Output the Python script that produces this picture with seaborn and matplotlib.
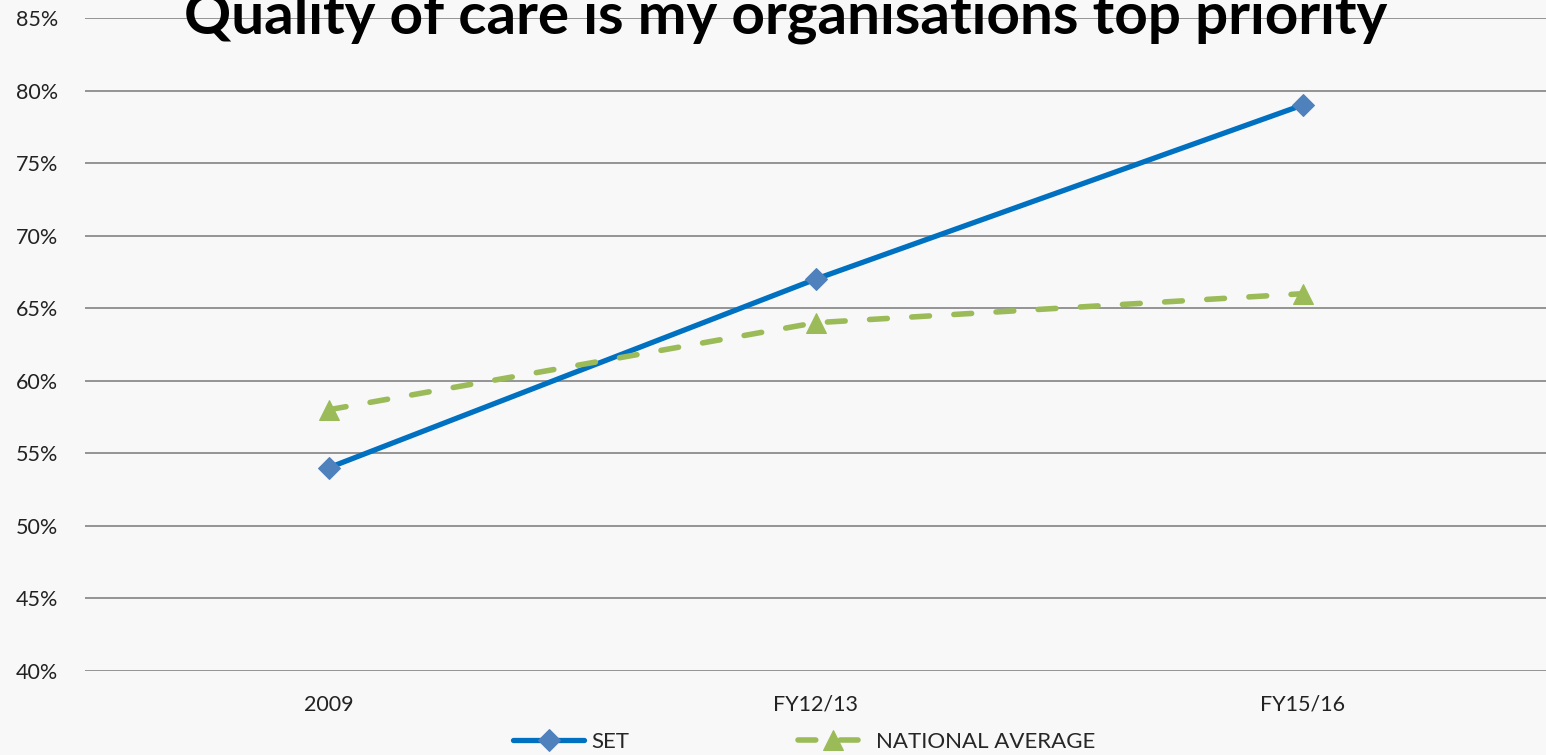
import matplotlib
matplotlib.use("Agg")
import matplotlib.pyplot as plt
import seaborn as sns
import pandas as pd
from matplotlib.ticker import FuncFormatter

years = ["2009", "FY12/13", "FY15/16"]
set_values = [54, 67, 79]
national_values = [58, 64, 66]
y_ticks = [40, 45, 50, 55, 60, 65, 70, 75, 80, 85]

sns.set_style("white")
plt.rcParams["font.family"] = ["Lato", "DejaVu Sans"]

bg = "#f8f8f8"
fig = plt.figure(figsize=(15.46, 7.55), dpi=100, facecolor=bg)
ax = fig.add_axes([85 / 1546, 1 - 671 / 755, 1 - 85 / 1546, (671 - 18) / 755])
ax.set_facecolor(bg)

df_set = pd.DataFrame({"year": years, "value": set_values})
df_nat = pd.DataFrame({"year": years, "value": national_values})

sns.lineplot(data=df_set, x="year", y="value", ax=ax, color="#0070c0",
             linewidth=3.8, marker="D", markersize=11,
             markerfacecolor="#4f81bd", markeredgecolor="#4f81bd",
             label="SET", sort=False)
sns.lineplot(data=df_nat, x="year", y="value", ax=ax, color="#9bbb59",
             linewidth=4, linestyle=(0, (3.2, 4.4)), dash_capstyle="round",
             marker="^", markersize=14,
             markerfacecolor="#9bbb59", markeredgecolor="#9bbb59",
             label="NATIONAL AVERAGE", sort=False)

ax.set_xlim(-0.5, 2.5)
ax.set_ylim(40, 85)
ax.set_yticks(y_ticks)
ax.yaxis.set_major_formatter(FuncFormatter(lambda v, p: f"{v:.0f}%"))
ax.grid(axis="y", color="#8c8c8c", linewidth=1.3)
ax.set_axisbelow(True)
for s in ax.spines.values():
    s.set_visible(False)
ax.tick_params(axis="both", length=0, labelsize=15.5, colors="#222222")
ax.tick_params(axis="x", pad=17)
ax.tick_params(axis="y", pad=19.5)
ax.set_xlabel("")
ax.set_ylabel("")

# legend sits a bit right of centre in the original
leg = ax.legend(loc="center", ncol=2, frameon=False, fontsize=16,
                handlelength=3.2, handletextpad=0.3, columnspacing=7.6)
leg.set_bbox_to_anchor((804 / 1546, 1 - 742 / 755), transform=fig.transFigure)

fig.text(0.508, 1 - 33 / 755, "Quality of care is my organisations top priority",
         ha="center", va="baseline", fontsize=42, fontweight="bold",
         color="black")

fig.savefig("out.png", dpi=100, facecolor=bg)
